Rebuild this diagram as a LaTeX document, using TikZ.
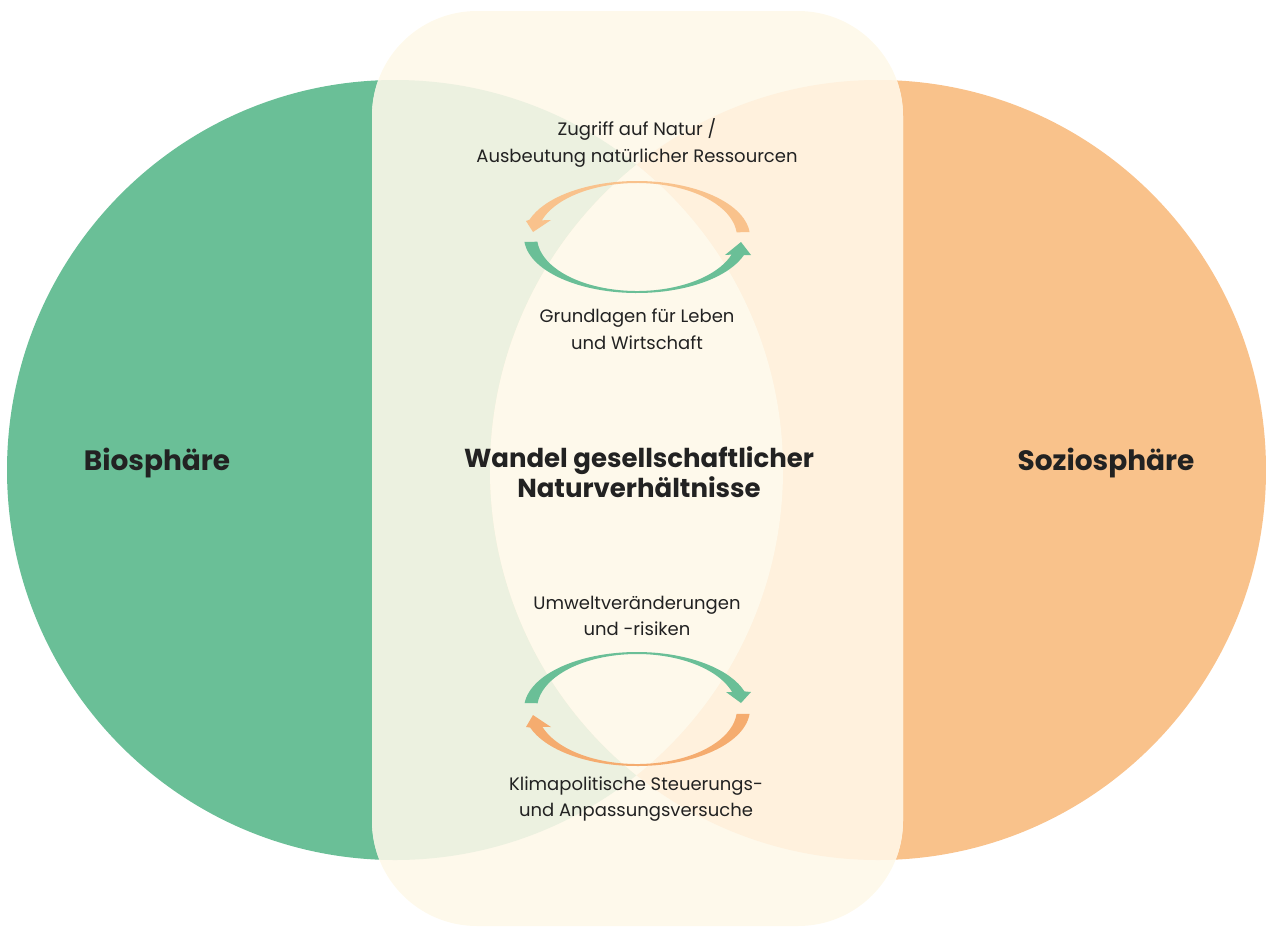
\documentclass[tikz,border=0pt]{standalone}
\usepackage{fontspec}
\setmainfont{Poppins}
\usetikzlibrary{calc}
\definecolor{bioGreen}{HTML}{6ABF97}
\definecolor{sozOrange}{HTML}{F9C28B}
\definecolor{lightGreen}{HTML}{ECF1E0}
\definecolor{lightOrange}{HTML}{FFF1DD}
\definecolor{cream}{HTML}{FEF9EB}
\definecolor{arrOrangeA}{HTML}{F9C28C}
\definecolor{arrOrangeB}{HTML}{F5AC6F}
\definecolor{txt}{HTML}{222222}
\begin{document}
\begin{tikzpicture}[x=1pt,y=-1pt,
  lbl/.style={inner sep=0pt, align=center, text=txt, font=\fontsize{18}{26.5}\selectfont},
  bigl/.style={inner sep=0pt, align=center, text=txt, font=\fontsize{26}{30}\selectfont\bfseries},
  sphl/.style={inner sep=0pt, align=center, text=txt, font=\fontsize{28}{32}\selectfont\bfseries}]
\useasboundingbox (0,0) rectangle (1266,927);
% spheres
\fill[bioGreen] (395,470) ellipse [x radius=388, y radius=390];
\fill[sozOrange] (878,470) ellipse [x radius=388, y radius=390];
% central rounded band
\fill[cream, rounded corners=105pt] (372,11) rectangle (903,926);
\begin{scope}
  \clip[rounded corners=105pt] (372,11) rectangle (903,926);
  \fill[lightGreen] (395,470) ellipse [x radius=388, y radius=390];
  \fill[lightOrange] (878,470) ellipse [x radius=388, y radius=390];
  \clip (395,470) ellipse [x radius=388, y radius=390];
  \fill[cream] (878,470) ellipse [x radius=388, y radius=390];
\end{scope}
% cycle centres
\coordinate (Ct) at (637,237);
\coordinate (Cb) at (637,709);
% top cycle: orange arc (right -> left over top)
\fill[arrOrangeA] ($(Ct)+(-5:113 and 56)$) arc[start angle=-5, end angle=-162, x radius=113, y radius=56]
  -- (526,221) -- (533,232) -- (551,220)
  -- ($(Ct)+(-162:100 and 54)$) arc[start angle=-162, end angle=-5, x radius=100, y radius=54] -- cycle;
% top cycle: green arc (left -> right under bottom)
\fill[bioGreen] ($(Ct)+(175:113 and 56)$) arc[start angle=175, end angle=19, x radius=113, y radius=56]
  -- (751,255) -- (741,242) -- (725,255)
  -- ($(Ct)+(19:100 and 54)$) arc[start angle=19, end angle=175, x radius=100, y radius=54] -- cycle;
% bottom cycle: green arc (left -> right over top)
\fill[bioGreen] ($(Cb)+(186:113 and 57)$) arc[start angle=186, end angle=342, x radius=113, y radius=57]
  -- (751,692) -- (741,703) -- (726,692)
  -- ($(Cb)+(342:100 and 55)$) arc[start angle=342, end angle=186, x radius=100, y radius=55] -- cycle;
% bottom cycle: orange arc (right -> left under bottom)
\fill[arrOrangeB] ($(Cb)+(5:113 and 57)$) arc[start angle=5, end angle=161, x radius=113, y radius=57]
  -- (526,727) -- (533,715) -- (551,727)
  -- ($(Cb)+(161:100 and 55)$) arc[start angle=161, end angle=5, x radius=100, y radius=55] -- cycle;
% labels
\node[lbl] (zugriff) at (637,143) {Zugriff auf Natur /\\Ausbeutung natürlicher Ressourcen};
\node[lbl] (grund) at (637,329) {Grundlagen für Leben\\und Wirtschaft};
\node[bigl] (wandel) at (639,472) {Wandel gesellschaftlicher\\Naturverhältnisse};
\node[lbl] (umwelt) at (637,616) {Umweltveränderungen\\und -risiken};
\node[lbl] (klima) at (636,799) {Klimapolitische Steuerungs-\\und Anpassungsversuche};
\node[sphl] (bio) at (157,463) {Biosphäre};
\node[sphl] (sozio) at (1106,463) {Soziosphäre};
\end{tikzpicture}
\end{document}
